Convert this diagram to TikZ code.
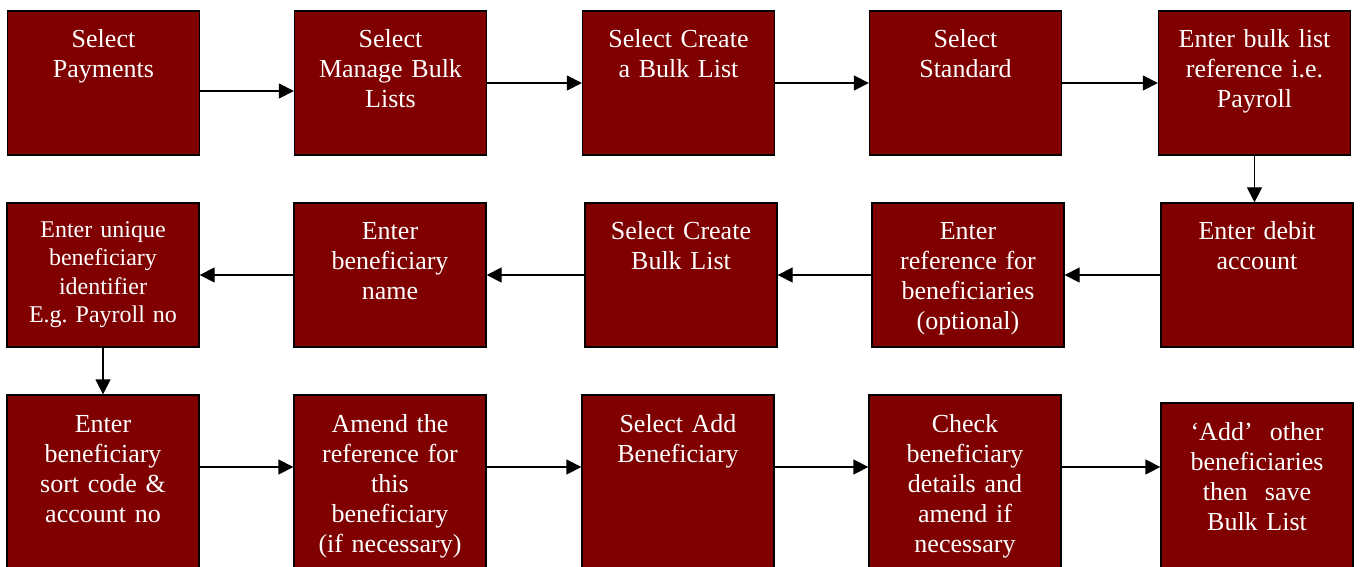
\documentclass[tikz,border=0pt]{standalone}
\usepackage{fontspec}
\setmainfont{Liberation Serif}
\frenchspacing
\usetikzlibrary{arrows.meta,positioning}
\definecolor{boxred}{HTML}{800000}
\tikzset{stepbox/.style={draw=black,line width=1.3pt,fill=boxred,text=white,inner sep=0pt,text width=192pt,align=center,font=\fontsize{26}{30}\selectfont,text height=37pt,text depth=107pt}}
\tikzset{smallbox/.style={stepbox,font=\fontsize{24}{28.5}\selectfont,text height=34pt,text depth=110pt}}
\tikzset{lowbox/.style={stepbox,text depth=143pt}}
\tikzset{arrow/.style={draw,line width=1.3pt,-{Triangle[length=15pt,width=15pt]}}}

\begin{document}
\begin{tikzpicture}[x=1pt,y=-1pt]
    \useasboundingbox (0,0) rectangle (1361,567);

    % first row
    \node[stepbox] (b1) at (103.5,83) {Select\\Payments};
    \node[stepbox,right=93.7pt of b1] (b2) {Select\\Manage Bulk\\Lists};
    \node[stepbox,right=94.7pt of b2] (b3) {Select Create\\a Bulk List};
    \node[stepbox,right=93.7pt of b3] (b4) {Select\\Standard};
    \node[stepbox,right=95.7pt of b4] (b5) {Enter bulk list\\reference i.e.\\Payroll};

    % second row, right to left
    \node[stepbox,below=46.7pt of b5,xshift=2.5pt] (r5) {Enter debit\\account};
    \node[stepbox,left=95.7pt of r5] (r4) {Enter\\reference for\\beneficiaries\\(optional)};
    \node[stepbox,left=93.7pt of r4] (r3) {Select Create\\Bulk List};
    \node[stepbox,left=97.7pt of r3] (r2) {Enter\\beneficiary\\name};
    \node[smallbox,left=93.7pt of r2] (r1) {Enter unique\\beneficiary\\identifier\\E.g. Payroll no};

    % third row
    \node[lowbox,below=46.7pt of r1] (c1) {Enter\\beneficiary\\sort code \&\\account no};
    \node[lowbox,right=93.7pt of c1] (c2) {Amend the\\reference for\\this\\beneficiary\\(if necessary)};
    \node[lowbox,right=94.7pt of c2] (c3) {Select Add\\Beneficiary};
    \node[lowbox,right=93.7pt of c3] (c4) {Check\\beneficiary\\details and\\amend if\\necessary};
    \node[lowbox,right=98.7pt of c4,yshift=-8pt] (c5) {‘Add’\ \ other\\beneficiaries\\then\ \ save\\Bulk List};

        \path[arrow] ([yshift=-8pt]b1.east) -- ([yshift=-8pt]b2.west);
        \path[arrow] (b2) -- (b3);
        \path[arrow] (b3) -- (b4);
        \path[arrow] (b4) -- (b5);
        \path[arrow] (b5.south) -- (b5.south |- r5.north);
        \path[arrow] (r5) -- (r4);
        \path[arrow] (r4) -- (r3);
        \path[arrow] (r3) -- (r2);
        \path[arrow] (r2) -- (r1);
        \path[arrow] (r1.south) -- (c1.north);
        \path[arrow] ([yshift=18pt]c1.east) -- ([yshift=18pt]c2.west);
        \path[arrow] ([yshift=18pt]c2.east) -- ([yshift=18pt]c3.west);
        \path[arrow] ([yshift=18pt]c3.east) -- ([yshift=18pt]c4.west);
        \path[arrow] ([yshift=18pt]c4.east) -- ([yshift=26pt]c5.west);
      \end{tikzpicture}
\end{document}
